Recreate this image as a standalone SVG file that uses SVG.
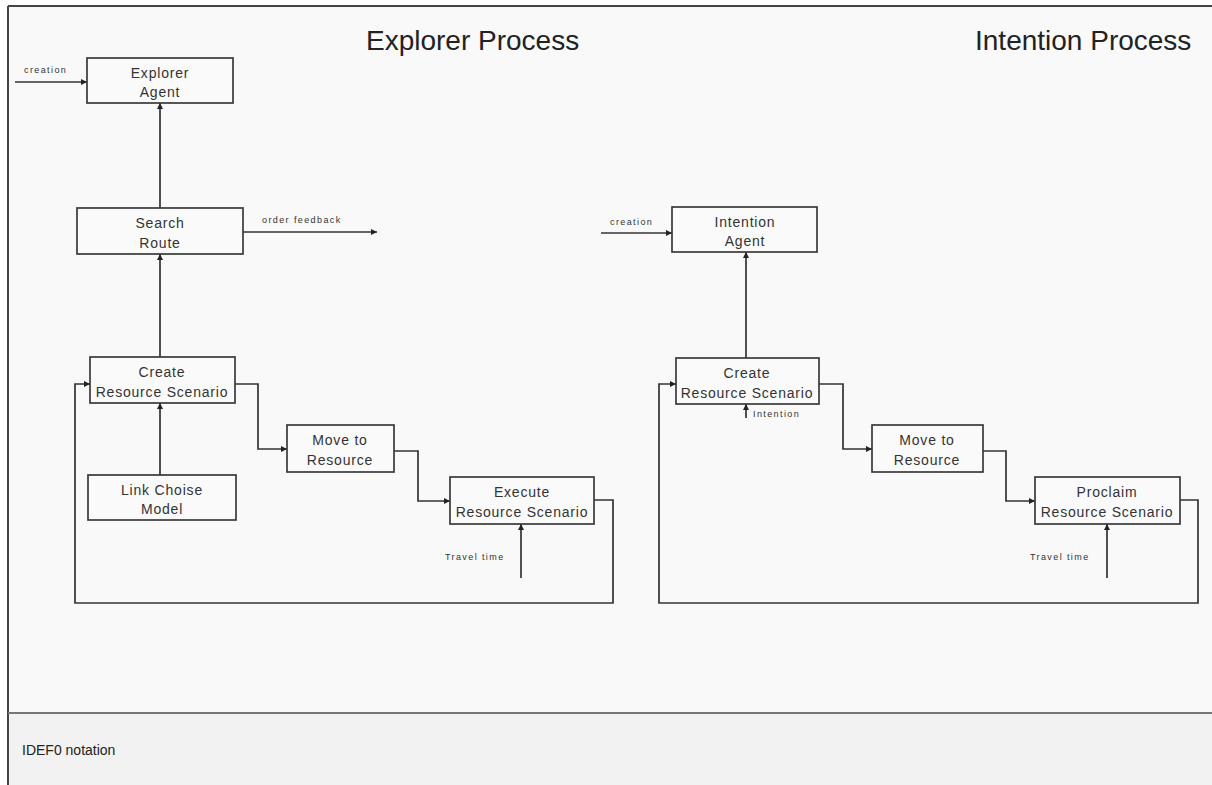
<svg xmlns="http://www.w3.org/2000/svg" width="1212" height="785" viewBox="0 0 1212 785">
  <defs>
    <marker id="arrow" viewBox="0 0 10 10" refX="10" refY="5" markerWidth="9" markerHeight="6" markerUnits="userSpaceOnUse" orient="auto">
      <path d="M0,0 L10,5 L0,10 z" fill="#222"/>
    </marker>
    <style>
      .box { fill: #fafafa; stroke: #3a3a3a; stroke-width: 1.7; }
      .lbl { font-family: "Liberation Sans", Arial, sans-serif; font-size: 14px; fill: #333; text-anchor: middle; letter-spacing: 0.8px; }
      .small { font-family: "Liberation Sans", Arial, sans-serif; font-size: 9px; fill: #333; letter-spacing: 1.4px; }
      .title { font-family: "Liberation Sans", Arial, sans-serif; font-size: 28px; fill: #222; }
      .conn { fill: none; stroke: #333; stroke-width: 1.7; }
      .arr { marker-end: url(#arrow); }
    </style>
  </defs>

  <!-- canvas and footer band -->
  <rect x="0" y="0" width="1212" height="785" fill="#ffffff"/>
  <rect x="8" y="6" width="1204" height="707" fill="#f9f9f9"/>
  <rect x="8" y="713" width="1204" height="72" fill="#f2f2f2"/>
  <line x1="8" y1="6" x2="1212" y2="6" stroke="#444" stroke-width="2"/>
  <line x1="8" y1="6" x2="8" y2="785" stroke="#444" stroke-width="2"/>
  <line x1="8" y1="713" x2="1212" y2="713" stroke="#777" stroke-width="2"/>
  <text x="22" y="755" font-family="Liberation Sans, Arial, sans-serif" font-size="14" fill="#222">IDEF0 notation</text>

  <!-- section titles -->
  <text class="title" x="366" y="50">Explorer Process</text>
  <text class="title" x="975" y="50">Intention Process</text>

  <!-- connectors -->
  <g id="connectors">
    <!-- explorer side -->
    <line class="conn arr" x1="15" y1="82" x2="87" y2="82"/>
    <text class="small" x="24" y="73">creation</text>
    <line class="conn arr" x1="160" y1="208" x2="160" y2="103"/>
    <line class="conn arr" x1="243" y1="232" x2="377" y2="232"/>
    <text class="small" x="262" y="223">order feedback</text>
    <line class="conn arr" x1="160" y1="357" x2="160" y2="254"/>
    <line class="conn arr" x1="160" y1="475" x2="160" y2="403"/>
    <polyline class="conn arr" points="235,384 258,384 258,449 287,449"/>
    <polyline class="conn arr" points="394,451 418,451 418,501 450,501"/>
    <polyline class="conn arr" points="594,500 613,500 613,603 75,603 75,384 90,384"/>
    <line class="conn arr" x1="521" y1="578" x2="521" y2="524"/>
    <text class="small" x="445" y="560">Travel time</text>

    <!-- intention side -->
    <line class="conn arr" x1="601" y1="233" x2="672" y2="233"/>
    <text class="small" x="610" y="225">creation</text>
    <line class="conn arr" x1="746" y1="358" x2="746" y2="252"/>
    <line class="conn arr" x1="746" y1="418" x2="746" y2="404"/>
    <text class="small" x="753" y="417">Intention</text>
    <polyline class="conn arr" points="819,384 843,384 843,449 872,449"/>
    <polyline class="conn arr" points="983,451 1006,451 1006,501 1035,501"/>
    <polyline class="conn arr" points="1180,500 1198,500 1198,603 659,603 659,384 676,384"/>
    <line class="conn arr" x1="1107" y1="578" x2="1107" y2="524"/>
    <text class="small" x="1030" y="560">Travel time</text>
  </g>

  <!-- explorer process nodes -->
  <g id="explorer-agent">
    <rect class="box" x="87" y="58" width="146" height="45"/>
    <text class="lbl" x="160" y="78">Explorer</text>
    <text class="lbl" x="160" y="97">Agent</text>
  </g>
  <g id="search-route">
    <rect class="box" x="77" y="208" width="166" height="46"/>
    <text class="lbl" x="160" y="228">Search</text>
    <text class="lbl" x="160" y="248">Route</text>
  </g>
  <g id="explorer-create-scenario">
    <rect class="box" x="90" y="357" width="145" height="46"/>
    <text class="lbl" x="162" y="377">Create</text>
    <text class="lbl" x="162" y="397">Resource Scenario</text>
  </g>
  <g id="link-choise-model">
    <rect class="box" x="88" y="475" width="148" height="45"/>
    <text class="lbl" x="162" y="495">Link Choise</text>
    <text class="lbl" x="162" y="514">Model</text>
  </g>
  <g id="explorer-move">
    <rect class="box" x="287" y="425" width="107" height="47"/>
    <text class="lbl" x="340" y="445">Move to</text>
    <text class="lbl" x="340" y="465">Resource</text>
  </g>
  <g id="execute-scenario">
    <rect class="box" x="450" y="477" width="144" height="47"/>
    <text class="lbl" x="522" y="497">Execute</text>
    <text class="lbl" x="522" y="517">Resource Scenario</text>
  </g>

  <!-- intention process nodes -->
  <g id="intention-agent">
    <rect class="box" x="672" y="207" width="145" height="45"/>
    <text class="lbl" x="745" y="227">Intention</text>
    <text class="lbl" x="745" y="246">Agent</text>
  </g>
  <g id="intention-create-scenario">
    <rect class="box" x="676" y="358" width="143" height="46"/>
    <text class="lbl" x="747" y="378">Create</text>
    <text class="lbl" x="747" y="398">Resource Scenario</text>
  </g>
  <g id="intention-move">
    <rect class="box" x="872" y="425" width="111" height="47"/>
    <text class="lbl" x="927" y="445">Move to</text>
    <text class="lbl" x="927" y="465">Resource</text>
  </g>
  <g id="proclaim-scenario">
    <rect class="box" x="1035" y="477" width="145" height="47"/>
    <text class="lbl" x="1107" y="497">Proclaim</text>
    <text class="lbl" x="1107" y="517">Resource Scenario</text>
  </g>
</svg>
